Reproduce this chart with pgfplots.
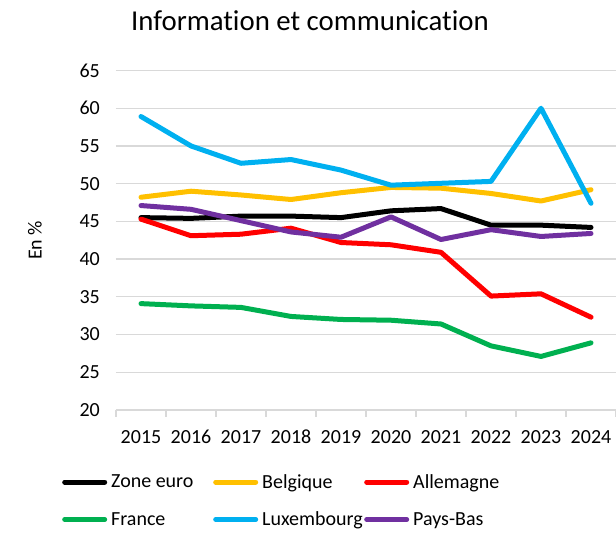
\documentclass[border=0pt]{standalone}
\usepackage{pgfplots}
\pgfplotsset{compat=1.18}
\usepackage{fontspec}
\setmainfont{Carlito}[Ligatures=NoCommon]
\definecolor{cbe}{HTML}{FFC000}
\definecolor{cde}{HTML}{FF0000}
\definecolor{cfr}{HTML}{00B050}
\definecolor{clu}{HTML}{00B0F0}
\definecolor{cnl}{HTML}{7030A0}
\definecolor{gridgray}{HTML}{D9D9D9}
\begin{document}
\begin{tikzpicture}
\useasboundingbox (-116pt,-125pt) rectangle (500pt,410pt);
\begin{axis}[
  at={(0pt,0pt)}, anchor=south west,
  scale only axis, width=500pt, height=339.5pt,
  xmin=2014.5, xmax=2024.5, ymin=20, ymax=65,
  ytick={20,25,...,65},
  xtick={2015,2016,2017,2018,2019,2020,2021,2022,2023,2024},
  xticklabels={2015,2016,2017,2018,2019,2020,2021,2022,2023,2024},
  minor xtick={2014.5,2015.5,2016.5,2017.5,2018.5,2019.5,2020.5,2021.5,2022.5,2023.5,2024.5},
  axis x line*=bottom, axis y line*=left,
  y axis line style={draw=none},
  x axis line style={draw=gridgray, line width=1.3pt, -},
  major tick length=0pt, minor tick length=7pt, tick align=outside,
  major x tick style={draw=none}, ytick style={draw=none},
  minor x tick style={draw=gridgray, line width=1.3pt},
  ymajorgrids, major y grid style={draw=gridgray, line width=1.3pt},
  /pgf/number format/assume math mode=true,
  tick label style={font=\fontsize{20}{24}\selectfont},
  yticklabel style={anchor=east, inner sep=0pt, xshift=-16pt},
  xticklabel style={anchor=base, inner sep=0pt, yshift=-34pt},
  title={Information et communication},
  title style={font=\fontsize{28.8}{34}\selectfont, at={(axis description cs:0.388,1.128)}, anchor=center},
  ylabel={En \%},
  ylabel style={font=\fontsize{20}{24}\selectfont, at={(axis description cs:-0.162,0.5)}, anchor=center},
  every axis plot/.append style={line width=5pt, line join=round, line cap=round},
  legend columns=3,
  legend image code/.code={\draw[#1] (0pt,0pt) -- (40pt,0pt);},
  legend style={draw=none, fill=none, at={(axis description cs:-0.114,-0.183)}, anchor=north west,
    font=\fontsize{20}{24}\selectfont, row sep=22pt,
    nodes={inner xsep=4pt, inner ysep=0pt}},
]
\addplot[black] coordinates {(2015,45.5)(2016,45.4)(2017,45.7)(2018,45.7)(2019,45.5)(2020,46.4)(2021,46.7)(2022,44.5)(2023,44.5)(2024,44.2)};
\addlegendentry{\makebox[98pt][l]{Zone euro}}
\addplot[cbe] coordinates {(2015,48.2)(2016,49.0)(2017,48.5)(2018,47.9)(2019,48.8)(2020,49.5)(2021,49.4)(2022,48.7)(2023,47.7)(2024,49.2)};
\addlegendentry{\makebox[98pt][l]{Belgique}}
\addplot[cde] coordinates {(2015,45.3)(2016,43.1)(2017,43.3)(2018,44.1)(2019,42.2)(2020,41.9)(2021,40.9)(2022,35.1)(2023,35.4)(2024,32.3)};
\addlegendentry{\makebox[98pt][l]{Allemagne}}
\addplot[cfr] coordinates {(2015,34.1)(2016,33.8)(2017,33.6)(2018,32.4)(2019,32.0)(2020,31.9)(2021,31.4)(2022,28.5)(2023,27.1)(2024,28.9)};
\addlegendentry{\makebox[98pt][l]{France}}
\addplot[clu] coordinates {(2015,58.9)(2016,55.0)(2017,52.7)(2018,53.2)(2019,51.8)(2020,49.8)(2021,50.05)(2022,50.3)(2023,60.0)(2024,47.4)};
\addlegendentry{\makebox[98pt][l]{Luxembourg}}
\addplot[cnl] coordinates {(2015,47.1)(2016,46.6)(2017,45.1)(2018,43.6)(2019,42.9)(2020,45.6)(2021,42.6)(2022,43.9)(2023,43.0)(2024,43.4)};
\addlegendentry{\makebox[98pt][l]{Pays-Bas}}
\end{axis}
\end{tikzpicture}
\end{document}
